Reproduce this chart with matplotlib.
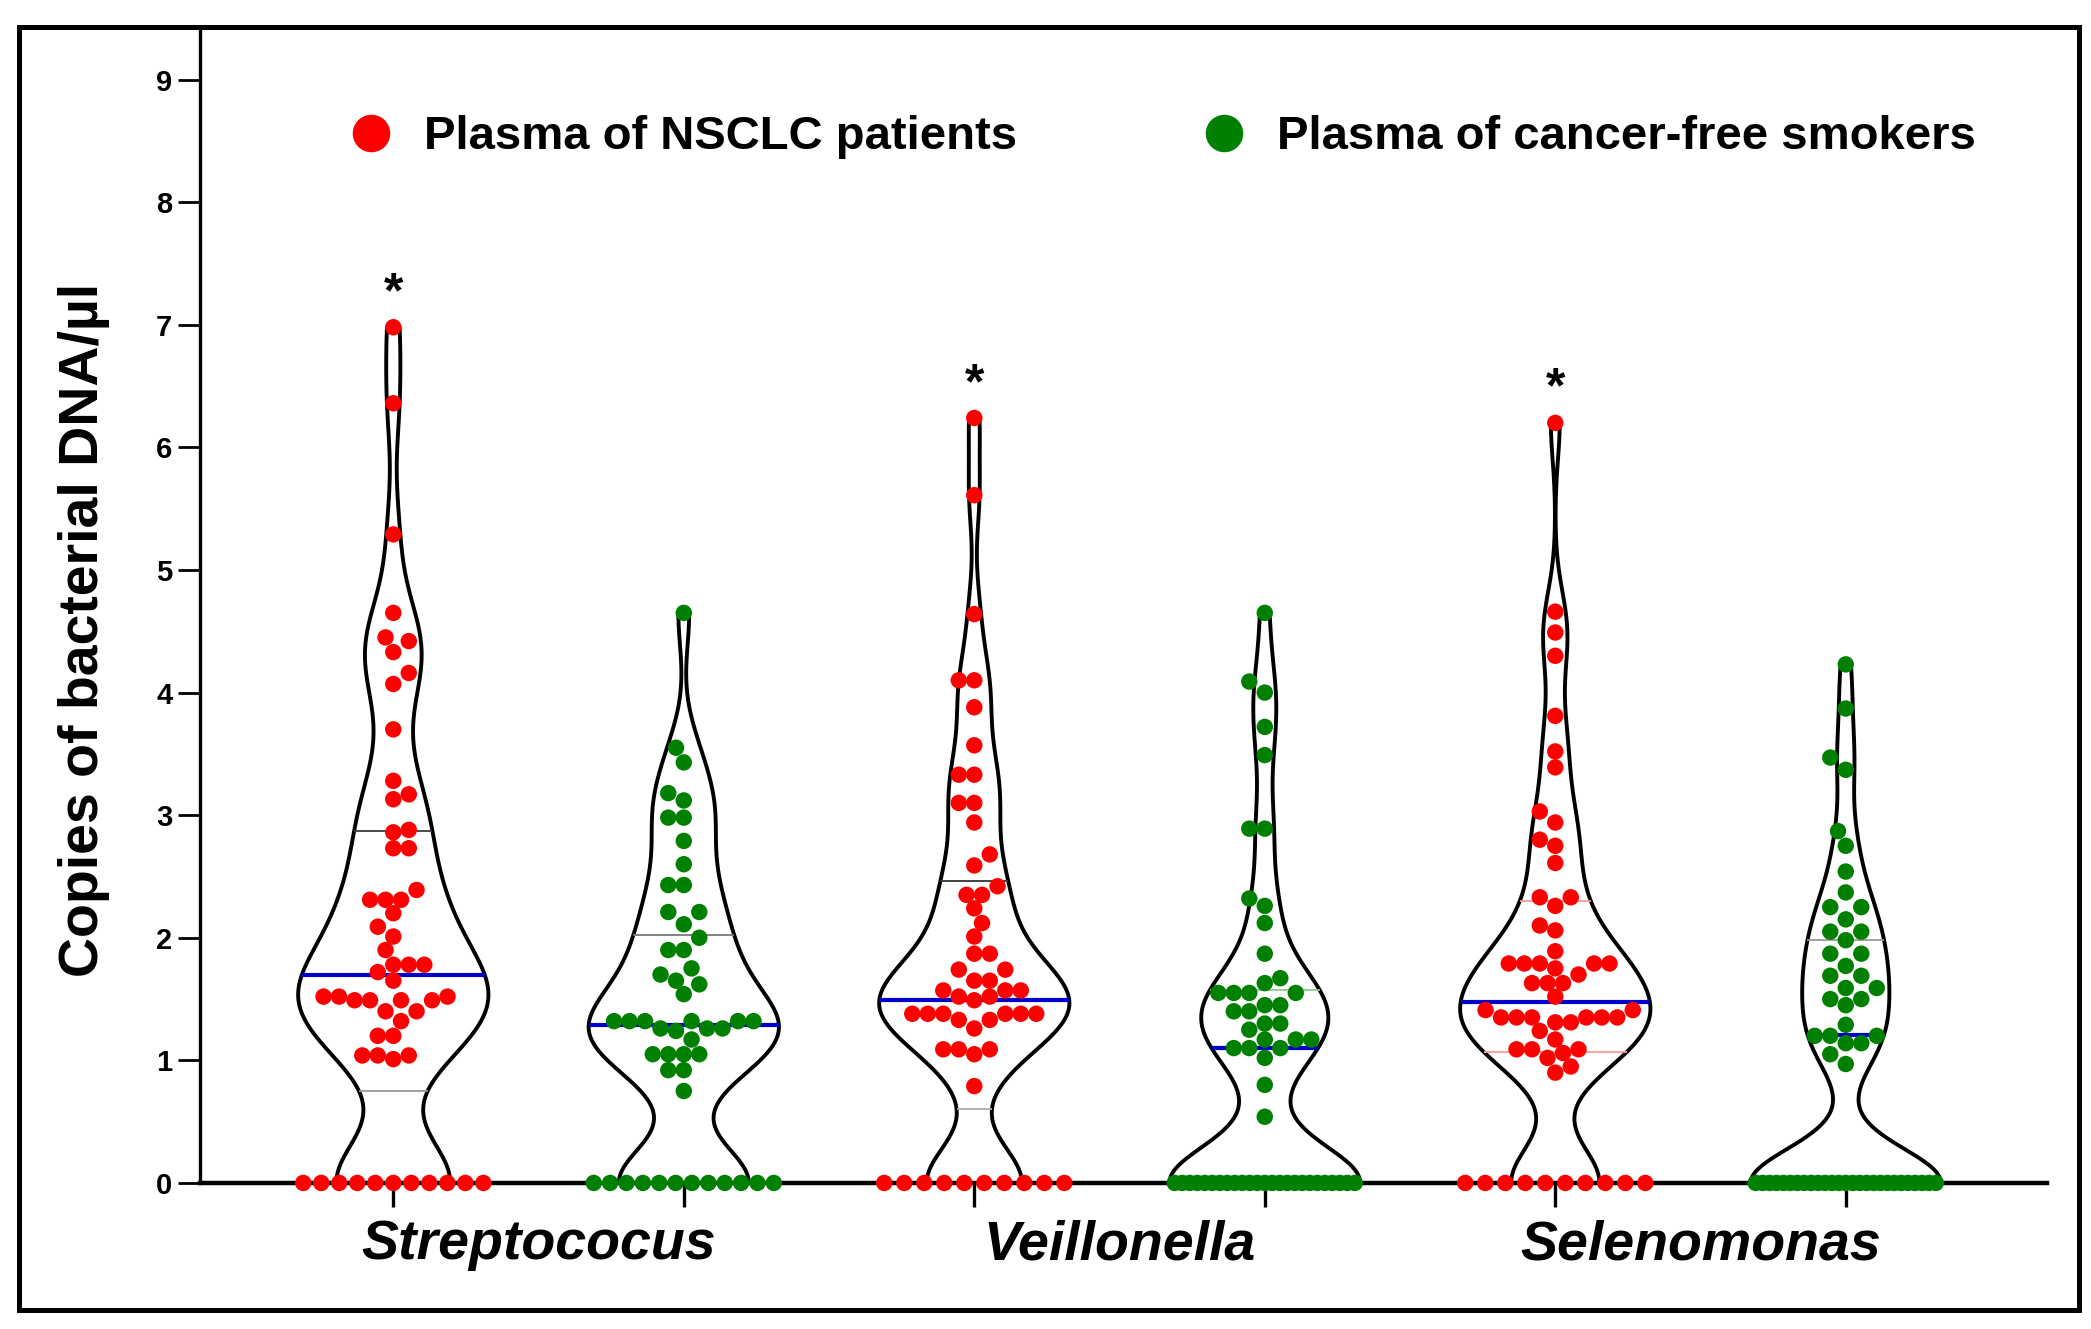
import numpy as np
import matplotlib.pyplot as plt
from matplotlib.lines import Line2D
from matplotlib.patches import Rectangle

plt.rcParams['font.family'] = ['Liberation Sans', 'DejaVu Sans']
plt.rcParams['font.weight'] = 'bold'

genera = ['Streptococus', 'Veillonella', 'Selenomonas']
groups = ['Plasma of NSCLC patients', 'Plasma of cancer-free smokers']
group_colors = ['#ff0000', '#008000']

# values (copies/ul), zeros listed separately
strep_nsclc = [6.98, 6.36, 5.29, 4.65, 4.45, 4.42, 4.33, 4.16, 4.07, 3.70, 3.28, 3.17,
               3.13, 2.88, 2.86, 2.73, 2.73, 2.39, 2.31, 2.31, 2.31, 2.20, 2.09, 2.01,
               1.90, 1.78, 1.78, 1.78, 1.72, 1.65, 1.52, 1.52, 1.52, 1.49, 1.49, 1.49,
               1.49, 1.40, 1.40, 1.32, 1.20, 1.20, 1.04, 1.04, 1.04, 1.01] + [0.0] * 11
strep_free = [4.65, 3.55, 3.43, 3.18, 3.12, 2.98, 2.98, 2.79, 2.60, 2.43, 2.43, 2.21,
              2.21, 2.11, 2.00, 1.90, 1.90, 1.75, 1.70, 1.65, 1.62, 1.54, 1.32, 1.32,
              1.32, 1.32, 1.32, 1.32, 1.26, 1.26, 1.26, 1.24, 1.17, 1.05, 1.05, 1.05,
              1.05, 0.92, 0.92, 0.75] + [0.0] * 12
veil_nsclc = [6.24, 5.61, 4.64, 4.10, 4.10, 3.88, 3.57, 3.33, 3.33, 3.10, 3.10, 2.94,
              2.68, 2.59, 2.42, 2.35, 2.35, 2.24, 2.12, 2.01, 1.87, 1.87, 1.74, 1.74,
              1.65, 1.65, 1.57, 1.57, 1.57, 1.52, 1.52, 1.49, 1.38, 1.38, 1.38, 1.38,
              1.38, 1.38, 1.33, 1.33, 1.26, 1.09, 1.09, 1.09, 1.05, 0.79] + [0.0] * 10
veil_free = [4.65, 4.09, 4.00, 3.72, 3.49, 2.89, 2.89, 2.32, 2.26, 2.12, 1.87, 1.67,
             1.63, 1.55, 1.55, 1.55, 1.55, 1.45, 1.45, 1.40, 1.40, 1.30, 1.30, 1.25,
             1.17, 1.17, 1.17, 1.10, 1.10, 1.10, 1.02, 0.80, 0.54] + [0.0] * 25
sel_nsclc = [6.20, 4.66, 4.49, 4.30, 3.81, 3.52, 3.39, 3.03, 2.94, 2.80, 2.75, 2.61,
             2.33, 2.33, 2.26, 2.10, 2.06, 1.89, 1.79, 1.79, 1.79, 1.79, 1.79, 1.75,
             1.70, 1.63, 1.63, 1.63, 1.52, 1.41, 1.41, 1.35, 1.35, 1.35, 1.35, 1.35,
             1.35, 1.31, 1.31, 1.24, 1.17, 1.09, 1.09, 1.09, 1.06, 1.02, 0.95, 0.90] + [0.0] * 10
sel_free = [4.23, 3.87, 3.47, 3.37, 2.87, 2.75, 2.54, 2.37, 2.25, 2.25, 2.15, 2.05,
            2.05, 1.98, 1.87, 1.87, 1.77, 1.69, 1.69, 1.59, 1.59, 1.50, 1.50, 1.45,
            1.29, 1.20, 1.20, 1.20, 1.14, 1.14, 1.05, 0.97] + [0.0] * 27

series = [strep_nsclc, strep_free, veil_nsclc, veil_free, sel_nsclc, sel_free]

# median / quartile lines as drawn in the picture
medians = [1.70, 1.29, 1.49, 1.10, 1.48, 1.21]
q1 = [0.75, 0.0, 0.60, 0.0, 1.07, 0.0]
q3 = [2.87, 2.02, 2.46, 1.57, 2.30, 1.98]
q_colors = [('#999999', '#3a3a3a'), ('#999999', '#777777'), ('#aaaaaa', '#333333'),
            ('#999999', '#8cc88c'), ('#ff9a9a', '#ff9a9a'), ('#999999', '#999999')]
significant = [True, False, True, False, True, False]

positions = np.arange(1, 7)
vwidth = 0.655
smoothing = [0.36, 0.30, 0.30, 0.30, 0.30, 0.28]   # kde bandwidth, data units


def half_width(body, pos, y):
    v = body.get_paths()[0].vertices
    left = v[v[:, 0] <= pos]
    order = np.argsort(left[:, 1])
    return pos - np.interp(y, left[order, 1], left[order, 0])


def swarm_x(vals, pos, d_px, sx, sy, zero_half):
    vals = np.asarray(vals, float)
    xs = np.full(len(vals), float(pos))
    zi = np.where(vals == 0)[0]
    xs[zi] = pos + np.linspace(-zero_half, zero_half, len(zi))
    placed = []
    step = d_px / 2.0
    for n, i in enumerate(np.argsort(vals)):
        if vals[i] == 0:
            continue
        y = vals[i] * sy
        best = None
        for k in range(80):
            sgn = [1, -1] if n % 2 else [-1, 1]
            cands = [0.0] if k == 0 else [sgn[0] * k * step, sgn[1] * k * step]
            for c in cands:
                if all((c - px) ** 2 + (y - py) ** 2 >= d_px ** 2 for px, py in placed):
                    best = c
                    break
            if best is not None:
                break
        placed.append((best, y))
        xs[i] = pos + best / sx
    return xs


fig = plt.figure(figsize=(20.91, 13.29), dpi=100)
ax = fig.add_axes([0.0957, 0.1099, 0.8833, 0.8671])
ax.set_xlim(0.335, 6.693)
ax.set_ylim(0, 9.4)

sx = 0.8833 * 2091 / (6.693 - 0.335)
sy = 0.8671 * 1329 / 9.4

for i, vals in enumerate(series):
    pos = positions[i]
    h = smoothing[i]
    vp = ax.violinplot(vals, positions=[pos], widths=vwidth, showextrema=False, points=400,
                       bw_method=lambda k, h=h: h / np.std(k.dataset, ddof=1))
    body = vp['bodies'][0]
    body.set_alpha(1)
    body.set_facecolor('none')
    body.set_edgecolor('black')
    body.set_linewidth(2.8)
    body.set_zorder(2)

    for yv, col, lw in [(q1[i], q_colors[i][0], 1.3), (q3[i], q_colors[i][1], 1.3),
                        (medians[i], '#0000cc', 3.0)]:
        if yv <= 0:
            continue
        hw = half_width(body, pos, yv)
        ax.plot([pos - hw, pos + hw], [yv, yv], color=col, lw=lw, zorder=2.5,
                solid_capstyle='butt')

    color = group_colors[i % 2]
    xs = swarm_x(vals, pos, 15.5, sx, sy, 0.31)
    ax.scatter(xs, vals, s=140, color=color, edgecolors='none', zorder=3, clip_on=False)

    if significant[i]:
        ax.text(pos, max(vals) + 0.27, '*', ha='center', va='center', fontsize=36,
                fontweight='bold')

for s in ['top', 'right']:
    ax.spines[s].set_visible(False)
ax.spines['left'].set_linewidth(2.4)
ax.spines['bottom'].set_linewidth(3.2)

ax.set_yticks(range(0, 10))
ax.tick_params(axis='y', length=16, width=2.0, pad=4, labelsize=21)
ax.set_xticks(positions)
ax.set_xticklabels([])
ax.tick_params(axis='x', which='major', length=17, width=2.4)
ax.set_xticks([1.5, 3.5, 5.5], minor=True)
ax.set_xticklabels(genera, minor=True, fontsize=40, fontstyle='italic', fontweight='bold')
ax.tick_params(axis='x', which='minor', length=0, pad=26)

ax.set_ylabel('Copies of bacterial DNA/\u00b5l', fontsize=40, fontweight='bold')
ax.yaxis.set_label_coords(-0.049, 0.48)

handles = [Line2D([], [], ls='none', marker='o', ms=26, mfc=c, mec=c) for c in group_colors]
ax.legend(handles, groups, ncol=2, frameon=False, loc='center left',
          bbox_to_anchor=(0.080, 0.9076), prop=dict(weight='bold', size=34),
          handlelength=1.0, handletextpad=0.62, columnspacing=3.88,
          borderaxespad=0, borderpad=0)

fig.add_artist(Rectangle((0.0091, 0.0143), 0.985, 0.9654, transform=fig.transFigure,
                         fill=False, lw=3.6, ec='black'))

fig.savefig('out.png', dpi=100)
